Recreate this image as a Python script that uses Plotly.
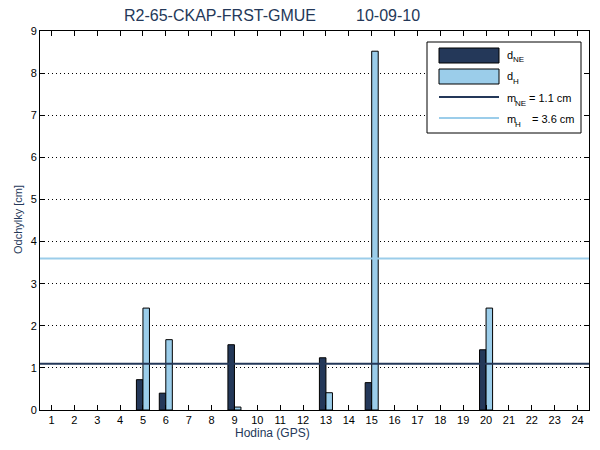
import plotly.graph_objects as go

hours = list(range(1, 25))
d_NE = [None, None, None, None, 0.72, 0.40, None, None, 1.55, None, None, None,
        1.24, None, 0.65, None, None, None, None, 1.43, None, None, None, None]
d_H = [None, None, None, None, 2.42, 1.67, None, None, 0.07, None, None, None,
       0.41, None, 8.52, None, None, None, None, 2.42, None, None, None, None]
m_NE = 1.1
m_H = 3.6
title_left = "R2-65-CKAP-FRST-GMUE"
title_right = "10-09-10"

NAVY = "#243859"
LIGHT = "#9BCDEA"
FONT = "Liberation Sans, Arial, sans-serif"

W, H = 600, 450
L, R, T, B = 40, 11, 31, 40
pw, ph = W - L - R, H - T - B

def px(x):
    return (x - L) / pw

def py(y):
    return (H - B - y) / ph

fig = go.Figure()
fig.add_trace(go.Bar(x=hours, y=d_NE, name="d_NE", marker=dict(color=NAVY, line=dict(color="black", width=1)), showlegend=False))
fig.add_trace(go.Bar(x=hours, y=d_H, name="d_H", marker=dict(color=LIGHT, line=dict(color="black", width=1)), showlegend=False))
fig.add_hline(y=m_NE, line=dict(color=NAVY, width=2))
fig.add_hline(y=m_H, line=dict(color=LIGHT, width=2))

fig.update_layout(
    width=W, height=H,
    margin=dict(l=L, r=R, t=T, b=B),
    paper_bgcolor="white", plot_bgcolor="white",
    barmode="group", bargap=0.43, bargroupgap=0,
    font=dict(family=FONT, size=11, color="black"),
    showlegend=False,
)
fig.update_xaxes(range=[0.5, 24.5], tickmode="array", tickvals=hours, ticktext=[str(h) for h in hours],
                 ticks="inside", ticklen=5, tickcolor="black", showline=True, linecolor="black", linewidth=1,
                 mirror="ticks", showgrid=False, zeroline=False, tickfont=dict(size=11))
fig.update_yaxes(range=[0, 9], dtick=1, ticks="inside", ticklen=5, tickcolor="black", showline=True,
                 linecolor="black", linewidth=1, mirror="ticks", showgrid=True, gridcolor="black",
                 griddash="1px,3px", gridwidth=1, zeroline=False, tickfont=dict(size=11))

fig.add_annotation(text=title_left, x=px(318), y=py(16), xref="paper", yref="paper",
                   showarrow=False, font=dict(size=16, color=NAVY), xanchor="right", yanchor="middle")
fig.add_annotation(text=title_right, x=px(354), y=py(16), xref="paper", yref="paper",
                   showarrow=False, font=dict(size=16, color=NAVY), xanchor="left", yanchor="middle")
fig.add_annotation(text="Hodina (GPS)", x=px(272), y=py(433), xref="paper", yref="paper", showarrow=False,
                   font=dict(size=12, color=NAVY), xanchor="center", yanchor="middle")
fig.add_annotation(text="Odchylky [cm]", x=px(18), y=py(220), xref="paper", yref="paper", showarrow=False,
                   textangle=-90, font=dict(size=11, color=NAVY), xanchor="center", yanchor="middle")

# legend (drawn by hand to match the reference's wide swatches)
fig.add_shape(type="rect", xref="paper", yref="paper", x0=px(427), x1=px(581), y0=py(42), y1=py(133),
              line=dict(color="black", width=1), fillcolor="white", layer="above")
fig.add_shape(type="rect", xref="paper", yref="paper", x0=px(439), x1=px(499), y0=py(48), y1=py(63),
              line=dict(color="black", width=1), fillcolor=NAVY, layer="above")
fig.add_shape(type="rect", xref="paper", yref="paper", x0=px(439), x1=px(499), y0=py(69), y1=py(84),
              line=dict(color="black", width=1), fillcolor=LIGHT, layer="above")
fig.add_shape(type="line", xref="paper", yref="paper", x0=px(439), x1=px(499), y0=py(97), y1=py(97),
              line=dict(color=NAVY, width=2), layer="above")
fig.add_shape(type="line", xref="paper", yref="paper", x0=px(439), x1=px(499), y0=py(118), y1=py(118),
              line=dict(color=LIGHT, width=2), layer="above")

# (main, subscript, rest, y, rest_x)
legend_items = [("d", "NE", "", 55, 0), ("d", "H", "", 76, 0),
                ("m", "NE", "= 1.1 cm", 98, 527), ("m", "H", "= 3.6 cm", 119, 530)]
for main, sub, rest, yy, rx in legend_items:
    fig.add_annotation(text=main, x=px(505), y=py(yy), xref="paper", yref="paper", showarrow=False,
                       font=dict(size=11, color="black"), xanchor="left", yanchor="middle")
    fig.add_annotation(text=sub, x=px(512.5 if main == "m" else 510.5), y=py(yy + 5), xref="paper", yref="paper",
                       showarrow=False, font=dict(size=8, color="black"), xanchor="left", yanchor="middle")
    if rest:
        fig.add_annotation(text=rest, x=px(rx), y=py(yy), xref="paper", yref="paper", showarrow=False,
                           font=dict(size=11, color="black"), xanchor="left", yanchor="middle")

fig.write_html("out.html")
